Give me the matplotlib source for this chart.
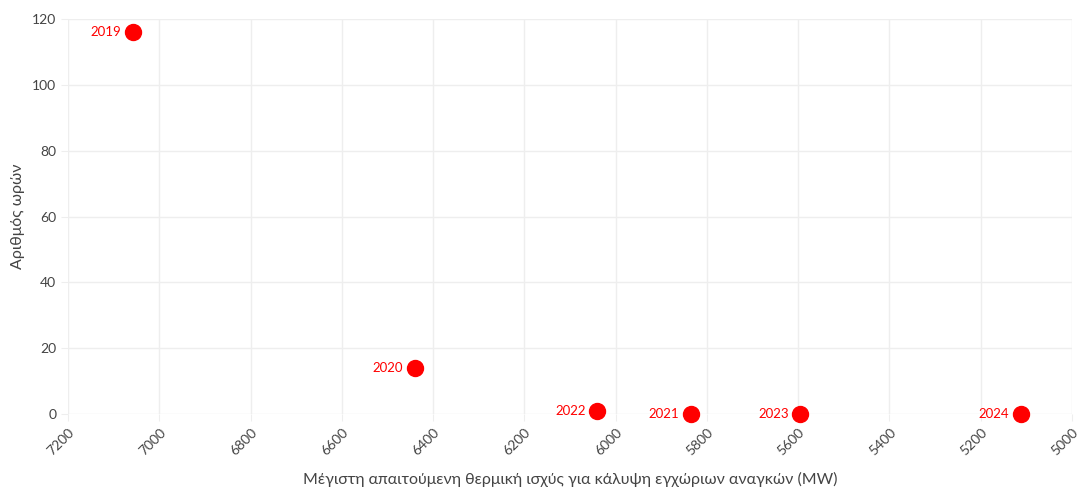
import matplotlib
matplotlib.use('Agg')
import matplotlib.pyplot as plt

# -------------------
# Data: max thermal power demand (MW) vs. number of hours
# -------------------
years = ['2019', '2020', '2022', '2021', '2023', '2024']
power_mw = [7058, 6440, 6040, 5835, 5595, 5112]
hours = [116, 14, 1, 0, 0, 0]

plt.rcParams['font.family'] = ['Lato', 'DejaVu Sans']

fig = plt.figure(figsize=(10.8, 4.88), dpi=100)
ax = fig.add_axes([0.063, 0.1516, 0.9296, 0.8094])

ax.plot(power_mw, hours, 'o', color='#ff0000', markersize=11.5, clip_on=False, zorder=3)
for yr, x, y in zip(years, power_mw, hours):
    ax.annotate(yr, (x, y), xytext=(-8.5, 0), textcoords='offset points',
                ha='right', va='center', color='#ff0000', fontsize=9.5)

ax.set_xlim(7200, 5000)
ax.set_ylim(0, 120)
ax.set_xticks(range(7200, 4999, -200))
ax.set_yticks(range(0, 121, 20))
ax.tick_params(axis='x', labelrotation=45, labelsize=10, colors='#444444', length=5, color='#eeeeee')
ax.tick_params(axis='y', labelsize=10, colors='#444444', length=5, color='#eeeeee')
for lbl in ax.get_xticklabels():
    lbl.set_ha('right')
    lbl.set_rotation_mode('anchor')

ax.grid(True, color='#eeeeee', linewidth=1)
ax.set_axisbelow(True)
for s in ax.spines.values():
    s.set_visible(False)

ax.set_xlabel('Μέγιστη απαιτούμενη θερμική ισχύς για κάλυψη εγχώριων αναγκών (MW)',
              fontsize=11.5, color='#444444', labelpad=11)
ax.set_ylabel('Αριθμός ωρών', fontsize=11.5, color='#444444', labelpad=5)

plt.savefig('out.png', dpi=100)
